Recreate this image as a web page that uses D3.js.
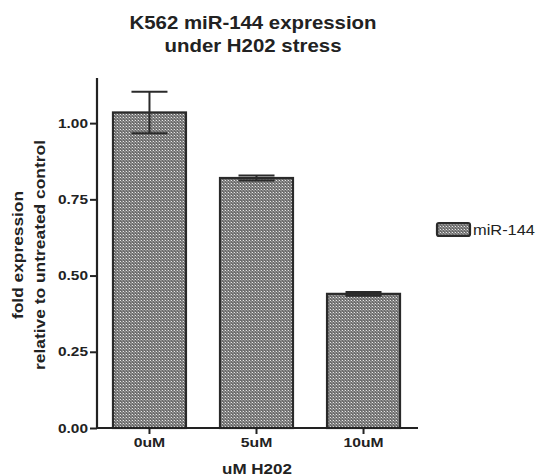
<!DOCTYPE html>
<html>
<head>
<meta charset="utf-8">
<script src="https://cdn.jsdelivr.net/npm/d3@7"></script>
<style>
  body { margin: 0; background: #fff; }
  text { font-family: "Liberation Sans", Arial, sans-serif; fill: #222; }
</style>
</head>
<body>
<svg id="chart" width="540" height="476"></svg>
<script>
// Doses and miR-144 fold expression (mean ± SEM)
const categories = ["0uM", "5uM", "10uM"];
const meanValues = [1.035, 0.82, 0.44];
const semValues = [0.068, 0.008, 0.006];
const yTicks = [0, 0.25, 0.5, 0.75, 1.0];
const seriesName = "miR-144";

const svg = d3.select("#chart");
const W = 540, H = 476;
const x0 = 97, x1 = 418;
const yBottom = 428, yTop = 78;

// checkered fill used for the bars and legend swatch
const defs = svg.append("defs");
const pat = defs.append("pattern")
  .attr("id", "checker").attr("patternUnits", "userSpaceOnUse")
  .attr("width", 3).attr("height", 3);
pat.append("rect").attr("width", 3).attr("height", 3).attr("fill", "#6c6c6c");
pat.append("rect").attr("x", 0).attr("y", 0).attr("width", 1).attr("height", 1).attr("fill", "#e6e6e6");
pat.append("rect").attr("x", 1).attr("y", 1).attr("width", 1).attr("height", 1).attr("fill", "#9a9a9a");
pat.append("rect").attr("x", 2).attr("y", 0).attr("width", 1).attr("height", 3).attr("fill", "#888");

const y = d3.scaleLinear().domain([0, 1.148]).range([yBottom, yTop]);
const x = d3.scaleBand().domain(categories).range([x0 - 2, x1])
  .paddingInner(0.318).paddingOuter(0.168);

// helper: bold label stretched to a measured width
function label(g, txt, px, py, size, len, anchor = "middle", weight = "bold") {
  return g.append("text").attr("x", px).attr("y", py).attr("text-anchor", anchor)
    .attr("font-size", size).attr("font-weight", weight)
    .attr("textLength", len).attr("lengthAdjust", "spacingAndGlyphs").text(txt);
}

// Title
label(svg, "K562 miR-144 expression", 253, 29, 18, 247);
label(svg, "under H202 stress", 253, 52, 18, 177);

// Bars
svg.append("g").selectAll("rect").data(categories).join("rect")
  .attr("x", d => x(d))
  .attr("y", (d, i) => y(meanValues[i]))
  .attr("width", x.bandwidth())
  .attr("height", (d, i) => y(0) - y(meanValues[i]))
  .attr("fill", "url(#checker)")
  .attr("stroke", "#2a2a2a").attr("stroke-width", 2.2);

// Error bars
const err = svg.append("g").attr("stroke", "#2a2a2a").attr("stroke-width", 2);
categories.forEach((c, i) => {
  const cx = x(c) + x.bandwidth() / 2;
  const capW = 18;
  const hi = meanValues[i] + semValues[i], lo = meanValues[i] - semValues[i];
  err.append("line").attr("x1", cx).attr("x2", cx).attr("y1", y(hi)).attr("y2", y(lo));
  [hi, lo].forEach(v => {
    err.append("line").attr("x1", cx - capW).attr("x2", cx + capW).attr("y1", y(v)).attr("y2", y(v));
  });
});

// Y axis
const yAxis = d3.axisLeft(y).tickValues(yTicks).tickFormat(d3.format(".2f")).tickSize(7).tickPadding(2);
const gy = svg.append("g").attr("transform", `translate(${x0},0)`).call(yAxis);
gy.select(".domain").attr("stroke", "#222").attr("stroke-width", 2.2)
  .attr("d", `M0,${yTop}V${yBottom}`);
gy.selectAll(".tick line").attr("stroke", "#222").attr("stroke-width", 2);
gy.selectAll(".tick text").attr("font-size", 13).attr("font-weight", "bold")
  .attr("font-family", "Liberation Sans, Arial, sans-serif").attr("fill", "#222")
  .attr("textLength", 30).attr("lengthAdjust", "spacingAndGlyphs");

// X axis
const xAxis = d3.axisBottom(x).tickSize(6).tickSizeOuter(0).tickPadding(4);
const gx = svg.append("g").attr("transform", `translate(0,${yBottom})`).call(xAxis);
gx.select(".domain").attr("stroke", "#222").attr("stroke-width", 2.2)
  .attr("d", `M${x0 - 1},0H${x1}`);
gx.selectAll(".tick line").attr("stroke", "#222").attr("stroke-width", 2);
gx.selectAll(".tick text").attr("font-size", 13).attr("font-weight", "bold")
  .attr("font-family", "Liberation Sans, Arial, sans-serif").attr("fill", "#222")
  .attr("textLength", d => d.length * 10.5 - (d.length > 3 ? 2 : 0))
  .attr("lengthAdjust", "spacingAndGlyphs");

// Axis titles
label(svg, "uM H202", 257, 474, 15, 70);
const yt = svg.append("g").attr("transform", "translate(0,255) rotate(-90)");
label(yt, "fold expression", 0, 23, 15, 128);
label(yt, "relative to untreated control", 0, 45, 15, 230);

// Legend
const lg = svg.append("g").attr("transform", "translate(437,223)");
lg.append("rect").attr("width", 33).attr("height", 13).attr("rx", 2)
  .attr("fill", "url(#checker)").attr("stroke", "#2a2a2a").attr("stroke-width", 2.2);
label(lg, seriesName, 36, 12, 14.5, 62, "start", "normal");
</script>
</body>
</html>
